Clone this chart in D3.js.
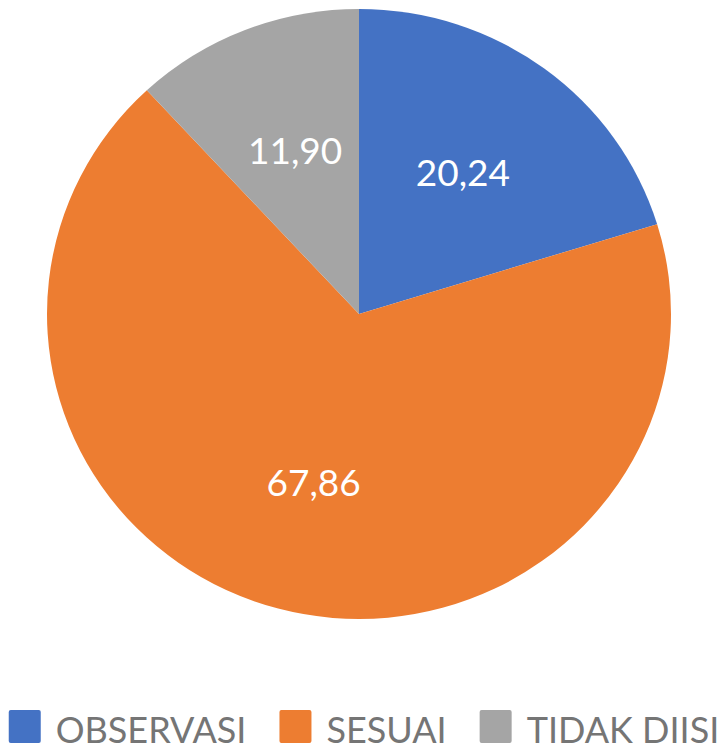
<!DOCTYPE html>
<html>
<head>
<meta charset="utf-8">
<script src="https://cdn.jsdelivr.net/npm/d3@7"></script>
<style>
  body { margin: 0; background: #fff; }
  svg { display: block; font-family: Lato, "Open Sans", sans-serif; }
</style>
</head>
<body>
<div id="chart"></div>
<script>
// data
var categories = ["OBSERVASI", "SESUAI", "TIDAK DIISI"];
var values = [20.24, 67.86, 11.90];
var labels = ["20,24", "67,86", "11,90"];
var colors = ["#4472C4", "#ED7D31", "#A5A5A5"];

var width = 722, height = 751;
var cx = 359, cy = 314;
var ry = 305, rx = 312;       // the original is a little wider than tall
var labelR = 175;

var svg = d3.select("#chart").append("svg")
    .attr("width", width)
    .attr("height", height);

var color = d3.scaleOrdinal().domain(categories).range(colors);

var data = categories.map(function(c, i) {
    return { name: c, value: values[i], label: labels[i] };
});

// pie from 12 o'clock going clockwise, keep order
var pie = d3.pie().sort(null).value(function(d) { return d.value; });
var arcs = pie(data);

var arc = d3.arc().innerRadius(0).outerRadius(ry);
var labelArc = d3.arc().innerRadius(labelR).outerRadius(labelR);

var g = svg.append("g")
    .attr("transform", "translate(" + cx + "," + cy + ") scale(" + (rx / ry) + ",1)");

g.selectAll("path")
    .data(arcs)
    .enter().append("path")
    .attr("d", arc)
    .attr("fill", function(d) { return color(d.data.name); });

// data labels
svg.append("g")
    .attr("transform", "translate(" + cx + "," + cy + ")")
    .selectAll("text")
    .data(arcs)
    .enter().append("text")
    .attr("x", function(d) { return labelArc.centroid(d)[0]; })
    .attr("y", function(d) { return labelArc.centroid(d)[1] + 13; })
    .attr("text-anchor", "middle")
    .attr("fill", "#fff")
    .style("font-size", "37px")
    .text(function(d) { return d.data.label; });

// legend
var legend = svg.append("g");
var sq = 32, gapText = 15, gapItem = 33;
var x = 0;
var items = legend.selectAll("g")
    .data(categories)
    .enter().append("g");

items.append("rect")
    .attr("width", sq)
    .attr("height", sq + 1)
    .attr("rx", 2)
    .attr("fill", function(d) { return color(d); });

items.append("text")
    .attr("x", sq + gapText)
    .attr("y", 33)
    .attr("fill", "#757575")
    .style("font-size", "36px")
    .text(function(d) { return d; });

items.each(function() {
    var item = d3.select(this);
    var w = item.select("text").node().getComputedTextLength();
    item.attr("transform", "translate(" + x + ",0)");
    x += sq + gapText + w + gapItem;
});
var total = x - gapItem;
legend.attr("transform", "translate(" + ((width - total) / 2 + 3) + ",710)");
</script>
</body>
</html>
